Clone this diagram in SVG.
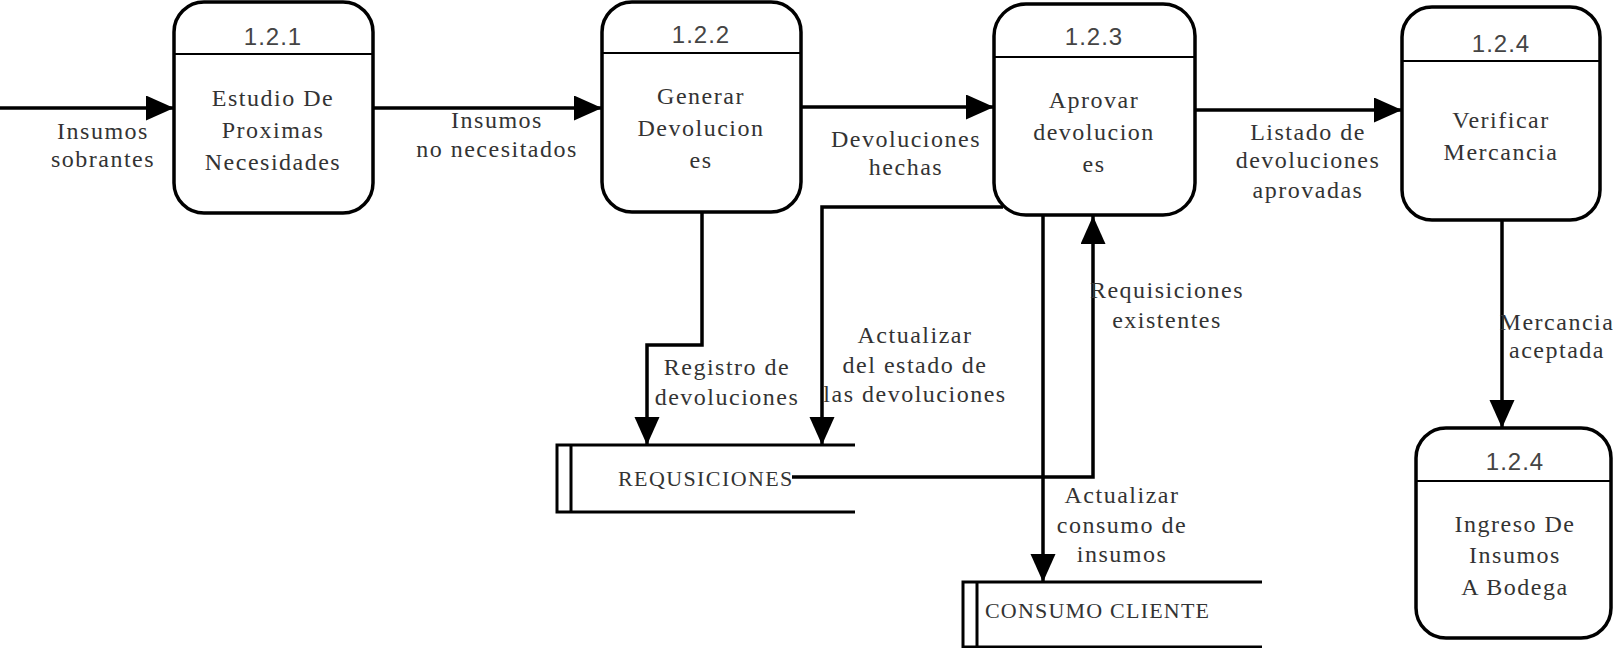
<svg xmlns="http://www.w3.org/2000/svg" width="1613" height="648" viewBox="0 0 1613 648">
<style>
.box{fill:#fff;stroke:#000;stroke-width:3.5}
.div{stroke:#000;stroke-width:2}
.title{font-family:"Liberation Sans",Arial,sans-serif;font-size:24px;fill:#444;text-anchor:middle;letter-spacing:1px}
.body{font-family:"Liberation Serif","Times New Roman",serif;font-size:24px;fill:#333;text-anchor:middle;letter-spacing:1.5px}
.lbl{font-family:"Liberation Serif","Times New Roman",serif;font-size:24px;fill:#333;text-anchor:middle;letter-spacing:1.5px}
.st{font-family:"Liberation Serif","Times New Roman",serif;font-size:22px;fill:#333}
.conn{fill:none;stroke:#000;stroke-width:3.5;marker-end:url(#arr)}
.store{fill:none;stroke:#000;stroke-width:3}
</style>
<defs>
<marker id="arr" markerUnits="userSpaceOnUse" markerWidth="30" markerHeight="26" refX="28" refY="12.5" orient="auto">
<path d="M0,0 L28,12.5 L0,25 z" fill="#000"/>
</marker>
</defs>
<rect width="1613" height="648" fill="#fff"/>

<g id="connectors">
<path class="conn" d="M0,108 H174"/>
<path class="conn" d="M373,108 H602"/>
<path class="conn" d="M801,107 H994"/>
<path class="conn" d="M1195,110 H1402"/>
<path class="conn" d="M702,212 V345 H647 V445"/>
<path class="conn" d="M1003,207 H822 V445"/>
<path class="conn" d="M792,477 H1093 V216"/>
<path class="conn" d="M1043,215 V582"/>
<path class="conn" d="M1502,220 V428"/>
<text class="lbl" x="103" y="139">Insumos</text>
<text class="lbl" x="103" y="167">sobrantes</text>
<text class="lbl" x="497" y="128">Insumos</text>
<text class="lbl" x="497" y="157">no necesitados</text>
<text class="lbl" x="906" y="147">Devoluciones</text>
<text class="lbl" x="906" y="175">hechas</text>
<text class="lbl" x="1308" y="140">Listado de</text>
<text class="lbl" x="1308" y="168">devoluciones</text>
<text class="lbl" x="1308" y="198">aprovadas</text>
<text class="lbl" x="727" y="375">Registro de</text>
<text class="lbl" x="727" y="405">devoluciones</text>
<text class="lbl" x="915" y="343">Actualizar</text>
<text class="lbl" x="915" y="373">del estado de</text>
<text class="lbl" x="915" y="402">las devoluciones</text>
<text class="lbl" x="1167" y="298">Requisiciones</text>
<text class="lbl" x="1167" y="328">existentes</text>
<text class="lbl" x="1122" y="503">Actualizar</text>
<text class="lbl" x="1122" y="533">consumo de</text>
<text class="lbl" x="1122" y="562">insumos</text>
<text class="lbl" x="1557" y="330" letter-spacing="0.8">Mercancia</text>
<text class="lbl" x="1557" y="358" letter-spacing="0.8">aceptada</text>
</g>

<g id="n121">
<rect class="box" x="174" y="2" width="199" height="211" rx="30" ry="30"/>
<line class="div" x1="174" y1="54" x2="373" y2="54"/>
<text class="title" x="273" y="45">1.2.1</text>
<text class="body" x="273" y="106">Estudio De</text>
<text class="body" x="273" y="138">Proximas</text>
<text class="body" x="273" y="170">Necesidades</text>
</g>

<g id="n122">
<rect class="box" x="602" y="2" width="199" height="210" rx="30" ry="30"/>
<line class="div" x1="602" y1="53" x2="801" y2="53"/>
<text class="title" x="701" y="43">1.2.2</text>
<text class="body" x="701" y="104">Generar</text>
<text class="body" x="701" y="136">Devolucion</text>
<text class="body" x="701" y="168">es</text>
</g>

<g id="n123">
<rect class="box" x="994" y="4" width="201" height="211" rx="32" ry="32"/>
<line class="div" x1="994" y1="57" x2="1195" y2="57"/>
<text class="title" x="1094" y="45">1.2.3</text>
<text class="body" x="1094" y="108">Aprovar</text>
<text class="body" x="1094" y="140">devolucion</text>
<text class="body" x="1094" y="172">es</text>
</g>

<g id="n124a">
<rect class="box" x="1402" y="7" width="198" height="213" rx="30" ry="30"/>
<line class="div" x1="1402" y1="61" x2="1600" y2="61"/>
<text class="title" x="1501" y="52">1.2.4</text>
<text class="body" x="1501" y="128">Verificar</text>
<text class="body" x="1501" y="160">Mercancia</text>
</g>

<g id="n124b">
<rect class="box" x="1416" y="428" width="195" height="210" rx="30" ry="30"/>
<line class="div" x1="1416" y1="481" x2="1611" y2="481"/>
<text class="title" x="1515" y="470">1.2.4</text>
<text class="body" x="1515" y="532">Ingreso De</text>
<text class="body" x="1515" y="563">Insumos</text>
<text class="body" x="1515" y="595">A Bodega</text>
</g>

<g id="store_requisiciones">
<path class="store" d="M855,445 H557 V512 H855 M571,445 V512"/>
<text class="st" x="618" y="486" letter-spacing="1.4">REQUSICIONES</text>
</g>

<g id="store_consumo">
<path class="store" d="M1262,582 H963 V647 H1262 M977,582 V647"/>
<text class="st" x="985" y="618" letter-spacing="1.2">CONSUMO CLIENTE</text>
</g>
</svg>
